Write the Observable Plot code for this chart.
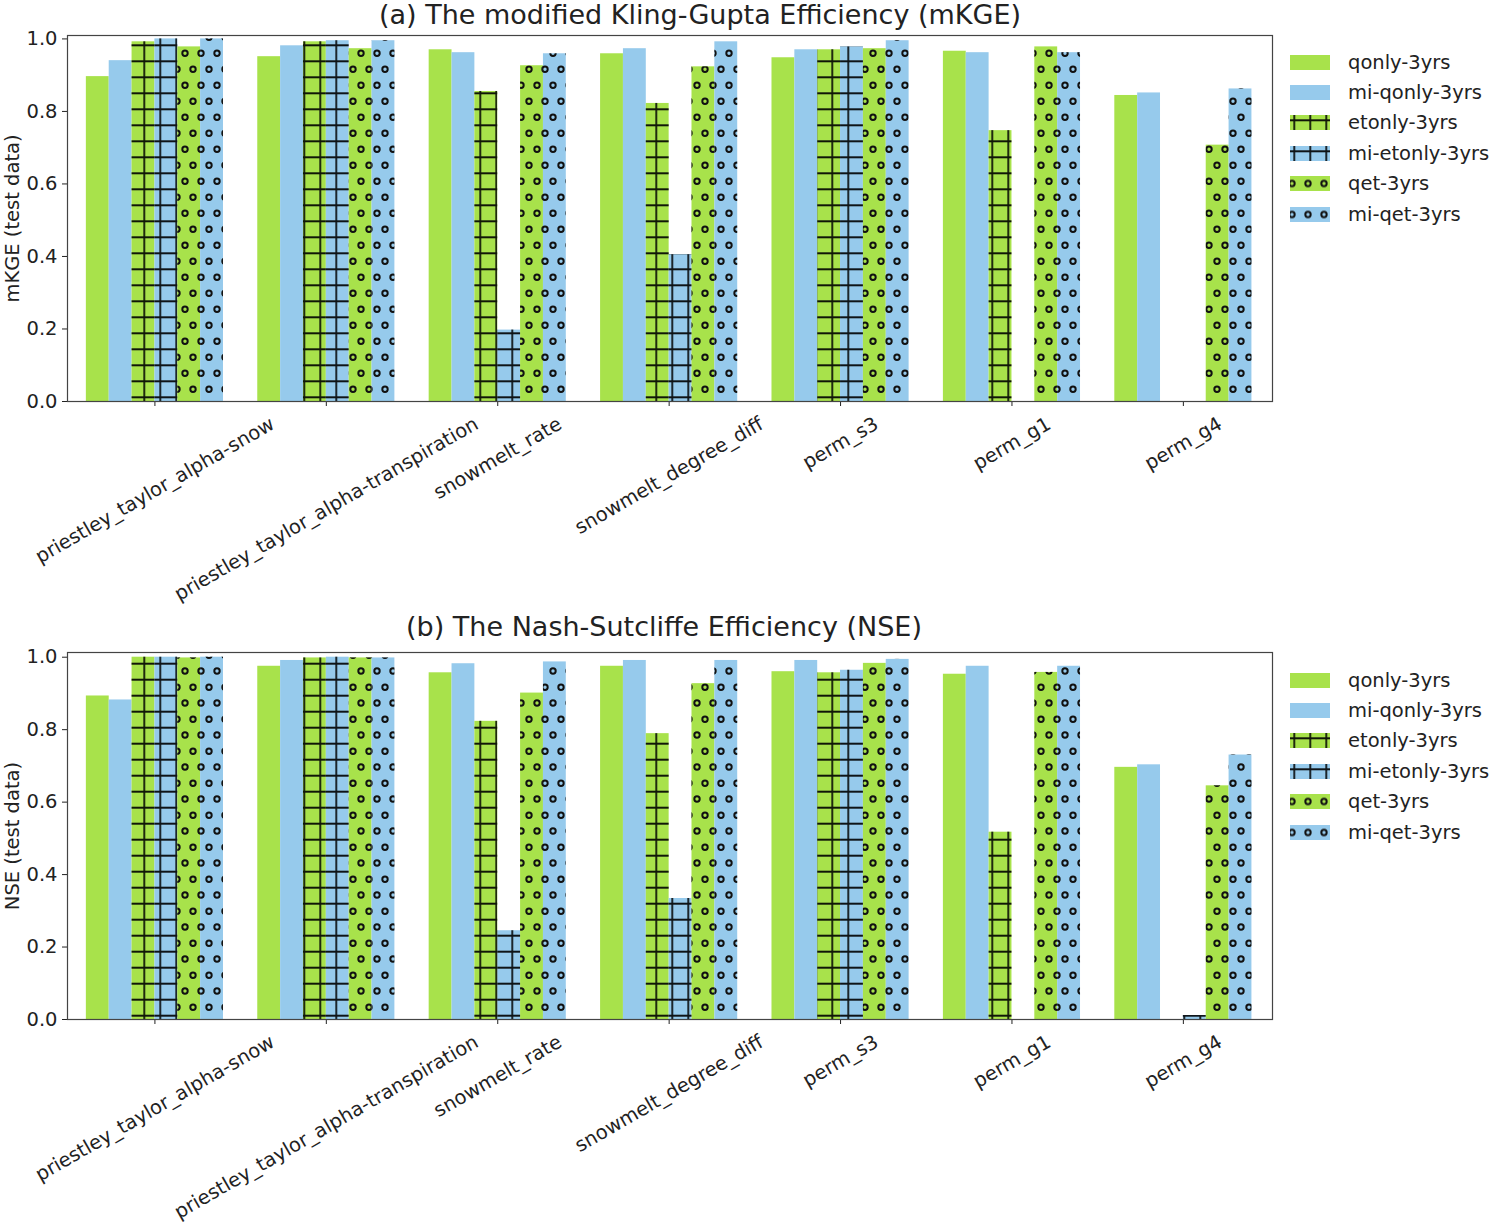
<!DOCTYPE html>
<html>
<head>
<meta charset="utf-8">
<script src="https://cdn.jsdelivr.net/npm/d3@7"></script>
<script src="https://cdn.jsdelivr.net/npm/@observablehq/plot@0.6"></script>
<style>
  body { margin: 0; background: #fff; font-family: "DejaVu Sans", sans-serif; color: #222; }
  #page { position: relative; width: 1494px; height: 1230px; overflow: hidden; }
  .title { position: absolute; left: 0; font-size: 27px; line-height: 30px; text-align: center; white-space: nowrap; }
  .chart { position: absolute; left: 0; }
  .legend { position: absolute; left: 1290px; font-size: 19.5px; white-space: nowrap; }
  .legend .row { display: flex; align-items: center; height: 30.4px; }
  .legend svg { margin-right: 18px; display: block; }
</style>
</head>
<body>
<div id="page">
  <div class="title" style="top:0;width:1400px">(a) The modified Kling-Gupta Efficiency (mKGE)</div>
  <div class="chart" id="chart-kge" style="top:30px"></div>
  <div class="legend" id="legend-kge" style="top:47px"></div>

  <div class="title" style="top:612px;width:1328px">(b) The Nash-Sutcliffe Efficiency (NSE)</div>
  <div class="chart" id="chart-nse" style="top:647px"></div>
  <div class="legend" id="legend-nse" style="top:665px"></div>
</div>
<script>
(function () {
  "use strict";

  // categories and series
  const categories = [
    "priestley_taylor_alpha-snow",
    "priestley_taylor_alpha-transpiration",
    "snowmelt_rate",
    "snowmelt_degree_diff",
    "perm_s3",
    "perm_g1",
    "perm_g4",
  ];
  const seriesNames = ["qonly-3yrs", "mi-qonly-3yrs", "etonly-3yrs", "mi-etonly-3yrs", "qet-3yrs", "mi-qet-3yrs"];
  const yTicks = [0, 0.2, 0.4, 0.6, 0.8, 1.0];

  // (a) mKGE, one array per series (null = no bar)
  const kgeQonly    = [0.896, 0.951, 0.970, 0.959, 0.948, 0.966, 0.844];
  const kgeMiQonly  = [0.940, 0.981, 0.962, 0.973, 0.970, 0.962, 0.851];
  const kgeEtonly   = [0.992, 0.992, 0.855, 0.822, 0.970, 0.747, null];
  const kgeMiEtonly = [1.000, 0.995, 0.197, 0.405, 0.978, null, null];
  const kgeQet      = [0.978, 0.973, 0.926, 0.923, 0.973, 0.978, 0.707];
  const kgeMiQet    = [1.000, 0.995, 0.959, 0.992, 0.995, 0.962, 0.862];

  // (b) NSE
  const nseQonly    = [0.893, 0.975, 0.957, 0.975, 0.960, 0.953, 0.696];
  const nseMiQonly  = [0.882, 0.991, 0.982, 0.991, 0.991, 0.975, 0.703];
  const nseEtonly   = [1.000, 0.998, 0.823, 0.789, 0.957, 0.517, null];
  const nseMiEtonly = [1.000, 1.000, 0.245, 0.334, 0.964, null, 0.011];
  const nseQet      = [0.998, 0.998, 0.901, 0.927, 0.983, 0.958, 0.645];
  const nseMiQet    = [1.000, 0.998, 0.987, 0.991, 0.994, 0.975, 0.730];

  // styles
  const GREEN = "#a8e24b";
  const BLUE  = "#96caec";
  const seriesColors = [GREEN, BLUE, GREEN, BLUE, GREEN, BLUE];
  const seriesHatch  = [null, null, "grid", "grid", "dots", "dots"];
  const BAR_W = 0.8 / seriesNames.length;
  const FONT = "'DejaVu Sans', sans-serif";
  const SVGNS = "http://www.w3.org/2000/svg";

  function el(tag, attrs, children) {
    const e = document.createElementNS(SVGNS, tag);
    for (const k in attrs) e.setAttribute(k, attrs[k]);
    (children || []).forEach(c => e.appendChild(c));
    return e;
  }

  // hatch patterns, anchored in the svg's own space like matplotlib's global hatch
  function patternDefs(prefix, o) {
    const line = { stroke: "#000", "stroke-width": 1.8, "stroke-opacity": 0.9, fill: "none" };
    const ring = { r: 2.7, fill: "none", stroke: "#111", "stroke-width": 2 };
    return el("defs", {}, [
      el("pattern", { id: prefix + "-grid", patternUnits: "userSpaceOnUse", width: 16, height: 16, x: o.gx, y: o.gy }, [
        el("path", Object.assign({ d: "M0 8H16M8 0V16" }, line)),
      ]),
      el("pattern", { id: prefix + "-dots", patternUnits: "userSpaceOnUse", width: 16, height: 32, x: o.dx, y: o.dy }, [
        el("circle", Object.assign({ cx: 4, cy: o.c1 }, ring)),
        el("circle", Object.assign({ cx: 12, cy: o.c2 }, ring)),
      ]),
    ]);
  }

  const measureCtx = document.createElement("canvas").getContext("2d");
  measureCtx.font = "19.5px " + FONT;

  function renderPanel(containerId, seriesValues, yLabel, yMax, pat) {
    const rows = [];
    seriesValues.forEach((vals, si) => vals.forEach((v, ci) => {
      if (v != null) rows.push({ si, ci, value: v });
    }));

    const x1 = d => d.ci - 0.4 + d.si * BAR_W;
    const x2 = d => d.ci - 0.4 + (d.si + 1) * BAR_W;

    const bars = seriesNames.map((name, si) =>
      Plot.rectY(rows.filter(r => r.si === si), {
        x1, x2, y1: () => 0, y2: d => d.value, fill: seriesColors[si],
      }));

    const hatches = seriesNames.map((name, si) => seriesHatch[si]
      ? Plot.rectY(rows.filter(r => r.si === si), {
          x1, x2, y1: () => 0, y2: d => d.value, fill: "url(#" + pat.id + "-" + seriesHatch[si] + ")",
        })
      : null).filter(Boolean);

    // category labels: rotated 30°, centred under their tick like matplotlib
    const labels = categories.map((label, ci) => {
      const L = measureCtx.measureText(label).width;
      return Plot.text([ci], {
        x: d => d, frameAnchor: "bottom", text: () => label,
        rotate: -30, textAnchor: "middle", lineAnchor: "middle",
        dy: 11 + (L * 0.5 + 19.6) / 2, fontSize: 19.5, fill: "#222",
      });
    });

    const chart = Plot.plot({
      width: 1280,
      height: 580,
      marginLeft: 67,
      marginRight: 8,
      marginTop: 5,
      marginBottom: pat.marginBottom,
      x: { domain: [-0.51, 6.52], ticks: d3.range(categories.length), tickFormat: () => "", tickSize: 5, label: null },
      y: { domain: [0, yMax], ticks: yTicks, tickFormat: d3.format(".1f"), tickSize: 5, tickPadding: 5, label: null },
      marks: [
        () => patternDefs(pat.id, pat),
        ...bars,
        ...hatches,
        Plot.frame({ stroke: "#444", strokeWidth: 1.2 }),
        ...labels,
        Plot.text([yLabel], {
          frameAnchor: "left", text: d => d, rotate: -90, textAnchor: "middle", lineAnchor: "middle",
          dx: -55, fontSize: 19.5, fill: "#222",
        }),
      ],
      style: { fontFamily: FONT, fontSize: "19.5px", color: "#222", background: "transparent", overflow: "visible" },
    });

    document.getElementById(containerId).appendChild(chart);
  }

  function renderLegend(containerId, prefix) {
    const box = document.getElementById(containerId);
    seriesNames.forEach((name, si) => {
      const row = document.createElement("div");
      row.className = "row";
      const kids = [el("rect", { width: 40, height: 15, fill: seriesColors[si] })];
      if (seriesHatch[si]) kids.push(el("rect", { width: 40, height: 15, fill: "url(#" + prefix + "-" + seriesHatch[si] + ")" }));
      const sw = el("svg", { width: 40, height: 15 }, [
        patternDefs(prefix, { gx: -3.7, gy: -2.7, dx: 6, dy: -0.5, c1: 24, c2: 8 }),
        ...kids,
      ]);
      row.appendChild(sw);
      const t = document.createElement("span");
      t.textContent = name;
      row.appendChild(t);
      box.appendChild(row);
    });
  }

  renderPanel("chart-kge",
    [kgeQonly, kgeMiQonly, kgeEtonly, kgeMiEtonly, kgeQet, kgeMiQet],
    "mKGE (test data)", 1.0094,
    { id: "pa", marginBottom: 209, gx: 8.3, gy: 7.3, dx: 5, dy: 0, c1: 23.3, c2: 7.3 });

  renderPanel("chart-nse",
    [nseQonly, nseMiQonly, nseEtonly, nseMiEtonly, nseQet, nseMiQet],
    "NSE (test data)", 1.013,
    { id: "pb", marginBottom: 208, gx: 8.3, gy: 8.7, dx: 5, dy: 0, c1: 24, c2: 8.3 });

  renderLegend("legend-kge", "la");
  renderLegend("legend-nse", "lb");
})();
</script>
</body>
</html>
